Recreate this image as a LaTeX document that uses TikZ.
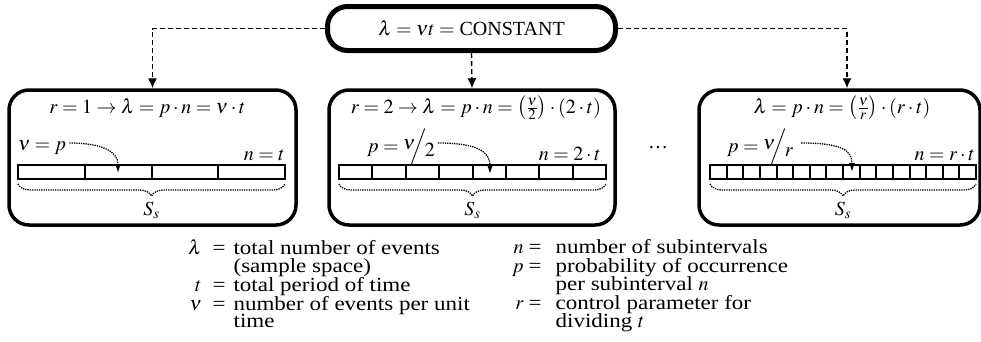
\documentclass[tikz,border=0pt]{standalone}
\usepackage{mathptmx}
\usepackage{fontspec}
\setmainfont{Liberation Serif}
\newfontfamily\figfont{Liberation Serif}
\newfontfamily\legendfont[FakeStretch=1.15]{Liberation Serif}
\usetikzlibrary{
  arrows.meta,
  positioning,
  decorations.pathreplacing
}

\begin{document}
\begin{tikzpicture}[
  x=1pt, y=-1pt,
  font=\figfont\fontsize{20}{15}\selectfont,
  topbox/.style={
    draw, line width=5pt, rounded corners=20pt,
    minimum width=288pt, minimum height=44pt,
    inner sep=0pt
  },
  panel/.style={
    draw, line width=3.5pt, rounded corners=20pt,
    minimum height=135pt, inner sep=0pt
  },
  link/.style={
    dash pattern=on 5pt off 3pt, line width=1.4pt,
    -{Latex[length=10pt,width=9pt]}},
  pointer/.style={
    densely dotted, line width=1.3pt,
    -{Latex[length=9pt,width=6pt]}},
  span/.style={
    densely dotted, line width=1.3pt, decorate,
    decoration={brace, mirror, amplitude=12pt}},
  cellbar/.style={line width=2pt},
  eqn/.style={inner sep=0pt, anchor=base},
  legend/.style={inner sep=0pt, anchor=north west,
    font=\legendfont\fontsize{20}{15}\selectfont}
]
\useasboundingbox (0,0) rectangle (981,341);

\node[topbox] (const) at (471.5,28.5)
  {$\lambda=\nu t=$ CONSTANT};

\node[panel, minimum width=287pt] (case1) at (152.5,157.5) {};
\node[panel, minimum width=286pt] (case2) at (472,157.5) {};
\node[panel, minimum width=281pt] (case3) at (839.5,157.5) {};

\draw[link] (const.west) -| (case1.north);
\draw[link] (const.south) -- (case2.north);
\draw[link] (const.east) -| ([xshift=7.5pt]case3.north);

% titles
\node[eqn] (t1) at (147.5,113)
  {$r=1\rightarrow\lambda=p\cdot n=\nu\cdot t$};
\node[eqn] (t2) at (476,113)
  {$r=2\rightarrow\lambda=p\cdot n=\bigl(\frac{\nu}{2}\bigr)\cdot(2\cdot t)$};
\node[eqn] (t3) at (842,113)
  {$\lambda=p\cdot n=\bigl(\frac{\nu}{r}\bigr)\cdot(r\cdot t)$};

\node[eqn] (dots) at (658,148) {\ldots};

% subinterval bars
\foreach \bx/\ex/\n in {18/285/4, 339/606/8, 710/976/16} {
  \draw[cellbar] (\bx,165) rectangle (\ex,179);
  \foreach \i in {1,...,\n}
    \draw[cellbar] ({\bx+\i*(\ex-\bx)/\n},165) -- ++(0,14);
  \draw[span] (\bx,184) -- (\ex,184);
  \node[eqn] (ss\n) at ({(\bx+\ex)/2},215) {$S_s$};
}

% labels above the bars
\node[eqn, anchor=base west] (p1) at (18,150) {$\nu=p$};
\node[eqn, anchor=base east] (n1) at (285,160) {$n=t$};
\node[eqn, anchor=base west] (p2) at (367,152)
  {$p=\raise3pt\hbox{$\nu$}\!\!\Big/\!\lower4pt\hbox{$2$}$};
\node[eqn, anchor=base east] (n2) at (601,160) {$n=2\cdot t$};
\node[eqn, anchor=base west] (p3) at (727,152)
  {$p=\raise3pt\hbox{$\nu$}\!\!\Big/\!\lower4pt\hbox{$r$}$};
\node[eqn, anchor=base east] (n3) at (975,160) {$n=r\cdot t$};

\coordinate (tip1) at (118,173);
\coordinate (tip2) at (490,174);
\coordinate (tip3) at (852,172);

\draw[pointer] ([shift={(3,-7)}]p1.base east)
  .. controls +(32,0) and +(0,-22) .. (tip1);
\draw[pointer] ([shift={(3,-9)}]p2.base east)
  .. controls +(40,0) and +(0,-22) .. (tip2);
\draw[pointer] ([shift={(8,-9)}]p3.base east)
  .. controls +(40,0) and +(0,-22) .. (tip3);

% legend
\node[legend] (lgl) at (188,239.5) {%
  \begin{tabular}{@{}r@{\hspace{11pt}}c@{\hspace{8pt}}l@{}}
  $\lambda$ & = & total number of events\\
            &   & (sample space)\\
  $t$       & = & total period of time\\
  $\nu$     & = & number of events per unit\\
            &   & time
  \end{tabular}};
\node[legend] (lgr) at (512,239.5) {%
  \begin{tabular}{@{}r@{\hspace{5pt}}c@{\hspace{14pt}}l@{}}
  $n$ & = & number of subintervals\\
  $p$ & = & probability of occurrence\\
      &   & per subinterval $n$\\
  $r$ & = & control parameter for\\
      &   & dividing $t$
  \end{tabular}};

\end{tikzpicture}
\end{document}
